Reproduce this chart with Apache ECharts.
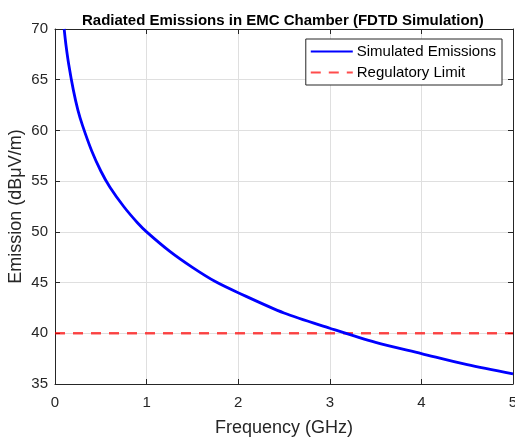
<!DOCTYPE html>
<html><head><meta charset="utf-8">
<script src="https://cdn.jsdelivr.net/npm/echarts@6/dist/echarts.min.js"></script>
<style>html,body{margin:0;padding:0;background:#fff}#c{width:515px;height:439px}</style>
</head><body><div id="c"></div>
<script>
var frequency = [0.1,0.12,0.15,0.2,0.25,0.3,0.4,0.5,0.6,0.75,0.9,1.0,1.25,1.5,1.75,2.0,2.5,3.0,3.5,4.0,4.5,5.0];
var emission  = [70,68.4,66.5,64,62,60.5,58,56,54.4,52.5,50.9,50,48.1,46.5,45.1,44,42,40.5,39.1,38,36.9,36];
var limitFreq = [0,5];
var limitVal  = [40,40];
var xTicks = [0,1,2,3,4,5];
var yTicks = [35,40,45,50,55,60,65,70];
var seriesNames = ['Simulated Emissions','Regulatory Limit'];

var font = "'Liberation Sans', Arial, Helvetica, sans-serif";
var chart = echarts.init(document.getElementById('c'), null, {renderer:'canvas'});
function pairs(xs, ys){ return xs.map(function(x,i){return [x, ys[i]];}); }
var axisCommon = {
  axisLine:{show:true, onZero:false, lineStyle:{color:'#262626', width:1}},
  axisTick:{show:true, inside:true, length:5, lineStyle:{color:'#262626'}},
};
chart.setOption({
  animation:false,
  backgroundColor:'#fff',
  title:{text:'Radiated Emissions in EMC Chamber (FDTD Simulation)', left:77, top:8,
    textStyle:{fontFamily:font, fontSize:15, fontWeight:'bold', color:'#000'}},
  grid:{left:55, right:2, top:29, bottom:55, containLabel:false, outerBoundsMode:'none'},
  legend:{data:seriesNames, orient:'vertical', right:13, top:39, itemWidth:42, itemHeight:14, itemGap:6,
    borderColor:'#262626', borderWidth:1, borderRadius:0, padding:[5,6,5,4], backgroundColor:'#fff',
    textStyle:{fontFamily:font, fontSize:15, color:'#000', padding:[0,0,0,-1]},
    itemStyle:{opacity:0, borderWidth:0}},
  xAxis:[
    Object.assign({type:'value', min:xTicks[0], max:xTicks[xTicks.length-1], interval:1, position:'bottom',
      name:'Frequency (GHz)', nameLocation:'middle', nameGap:35, nameMoveOverlap:false,
      nameTextStyle:{fontFamily:font, fontSize:18, color:'#262626'},
      axisLabel:{fontFamily:font, fontSize:15, color:'#262626', margin:11},
      splitLine:{show:true, lineStyle:{color:'#dfdfdf'}}}, axisCommon),
    Object.assign({type:'value', min:0, max:5, interval:1, position:'top', axisLabel:{show:false}, splitLine:{show:false}}, axisCommon)
  ],
  yAxis:[
    Object.assign({type:'value', min:yTicks[0], max:yTicks[yTicks.length-1], interval:5, position:'left',
      name:'Emission (dBμV/m)', nameLocation:'middle', nameGap:30, nameMoveOverlap:false,
      nameTextStyle:{fontFamily:font, fontSize:18, color:'#262626'},
      axisLabel:{fontFamily:font, fontSize:15, color:'#262626', margin:7},
      splitLine:{show:true, lineStyle:{color:'#dfdfdf'}}}, axisCommon),
    Object.assign({type:'value', min:35, max:70, interval:5, position:'right', axisLabel:{show:false}, splitLine:{show:false}}, axisCommon)
  ],
  series:[
    {name:seriesNames[0], type:'line', data:pairs(frequency, emission), smooth:0.3, symbol:'none',
      lineStyle:{color:'#0000ff', width:2.8}, itemStyle:{color:'#0000ff'}, z:3},
    {name:seriesNames[1], type:'line', data:pairs(limitFreq, limitVal), symbol:'none',
      lineStyle:{color:'rgba(255,0,0,0.7)', width:2.6, type:[10,8]}, itemStyle:{color:'rgba(255,0,0,0.7)'}, z:2}
  ]
});
</script></body></html>
